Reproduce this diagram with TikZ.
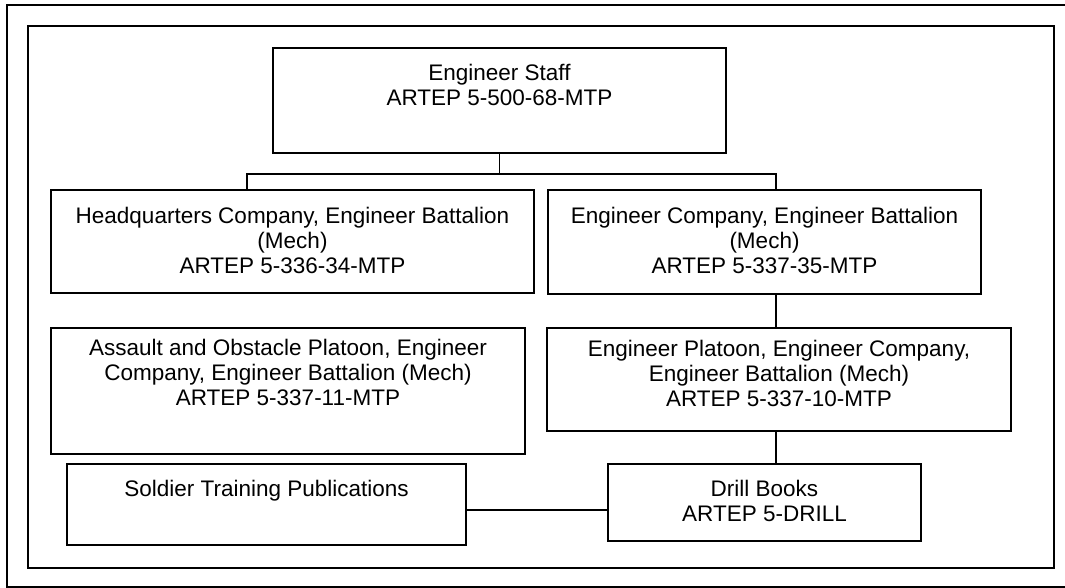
\documentclass[tikz,border=0pt]{standalone}
\usepackage{fontspec}
\setmainfont{Liberation Sans}
\usepackage{tikz}

\tikzset{
  unit/.style={draw, line width=1.6pt, inner sep=0pt, outer sep=0pt, anchor=north west},
  caption/.style={anchor=north, inner sep=0pt, align=center,
    font=\fontsize{22.5}{25}\selectfont},
  link/.style={line width=1.5pt},
  frame/.style={line width=2.2pt}
}

\begin{document}
\begin{tikzpicture}[x=1pt, y=-1pt]
  \useasboundingbox (0,0) rectangle (1065,588);

  \draw [frame] (7,5) rectangle (1075,587);
  \draw [frame] (28,26) rectangle (1054,568);

  \node (staff) [unit, minimum width=453pt, minimum height=105pt,
    label={[caption, yshift=-16pt]north:Engineer Staff\\ARTEP 5-500-68-MTP}] at (273,48) {};
  \node (hqco) [unit, minimum width=483pt, minimum height=103pt,
    label={[caption, yshift=-17pt]north:Headquarters Company, Engineer Battalion\\(Mech)\\ARTEP 5-336-34-MTP}] at (51,190) {};
  \node (engco) [unit, minimum width=433pt, minimum height=104pt,
    label={[caption, yshift=-17pt]north:Engineer Company, Engineer Battalion\\(Mech)\\ARTEP 5-337-35-MTP}] at (548,190) {};
  \node (aoplt) [unit, minimum width=474pt, minimum height=126pt,
    label={[caption, yshift=-11pt]north:Assault and Obstacle Platoon, Engineer\\Company, Engineer Battalion (Mech)\\ARTEP 5-337-11-MTP}] at (51,328) {};
  \node (engplt) [unit, minimum width=464pt, minimum height=103pt,
    label={[caption, yshift=-12pt]north:Engineer Platoon, Engineer Company,\\Engineer Battalion (Mech)\\ARTEP 5-337-10-MTP}] at (547,328) {};
  \node (stp) [unit, minimum width=399pt, minimum height=81pt,
    label={[caption, yshift=-16pt]north:Soldier Training Publications}] at (67,464) {};
  \node (drill) [unit, minimum width=313pt, minimum height=77pt,
    label={[caption, yshift=-16pt]north:Drill Books\\ARTEP 5-DRILL}] at (608,464) {};

  \coordinate (busL) at (247,174);
  \coordinate (busR) at (776,174);
  \coordinate (tie) at (0,510);

  \draw [link] (staff.south) -- (staff.south |- busL);
  \draw [link] (hqco.north -| busL) -- (busL) -- (busR) -- (engco.north -| busR);
  \draw [link] (engco.south -| busR) -- (engplt.north -| busR);
  \draw [link] (engplt.south -| busR) -- (drill.north -| busR);
  \draw [link] (stp.east |- tie) -- (drill.west |- tie);
\end{tikzpicture}
\end{document}
